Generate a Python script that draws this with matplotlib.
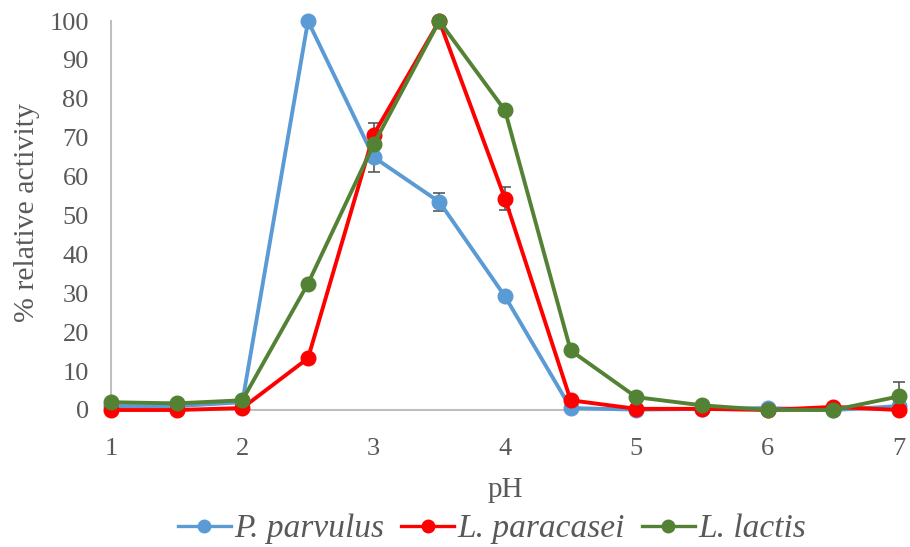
import matplotlib.pyplot as plt
from matplotlib.lines import Line2D

ph = [1, 1.5, 2, 2.5, 3, 3.5, 4, 4.5, 5, 5.5, 6, 6.5, 7]
p_parvulus = [1.0, 1.0, 2.0, 100, 65.0, 53.5, 29.2, 0.5, 0.1, 0.3, 0.5, 0.0, 1.0]
p_parvulus_err = [0, 0, 0, 0, 3.9, 2.3, 0, 0, 0, 0, 0, 0, 0]
l_paracasei = [0.0, 0.0, 0.5, 13.3, 70.8, 100, 54.3, 2.5, 0.3, 0.3, 0.0, 0.8, 0.0]
l_paracasei_err = [0, 0, 0, 0, 3.0, 0, 3.0, 0, 0, 0, 0, 0, 0]
l_lactis = [2.0, 1.7, 2.5, 32.5, 68.3, 100, 77.0, 15.3, 3.3, 1.2, 0.0, 0.0, 3.5]
l_lactis_err = [0, 0, 0, 0.6, 0, 0, 0, 0, 0, 0, 0, 0, 3.6]

names = ['P. parvulus', 'L. paracasei', 'L. lactis']
colors = ['#5B9BD5', '#FF0000', '#548235']

plt.rcParams['font.family'] = ['Liberation Serif', 'DejaVu Serif']
text_color = '#595959'

fig = plt.figure(figsize=(9.1, 5.47), dpi=100)
ax = fig.add_axes([111 / 910, 1 - 410 / 547, 788 / 910, 389 / 547])

series = [(p_parvulus, p_parvulus_err), (l_paracasei, l_paracasei_err), (l_lactis, l_lactis_err)]
handles = []
for (vals, err), name, c in zip(series, names, colors):
    ax.errorbar(ph, vals, yerr=err, color=c, lw=2.8, marker='o', ms=10.5,
                ecolor='#595959', elinewidth=1.2, capsize=4, capthick=1.2,
                clip_on=False, zorder=3)
    handles.append(Line2D([], [], color=c, lw=2.4, marker='o', ms=9, label=name))

ax.set_xlim(1, 7)
ax.set_ylim(0, 100)
ax.set_xticks(range(1, 8))
ax.set_yticks(range(0, 101, 10))
ax.tick_params(length=0, labelsize=19, labelcolor=text_color)
ax.tick_params(axis='x', pad=20)
ax.tick_params(axis='y', pad=16)
for s in ['top', 'right']:
    ax.spines[s].set_visible(False)
for s in ['left', 'bottom']:
    ax.spines[s].set_color('#BFBFBF')
    ax.spines[s].set_linewidth(1.5)

ax.set_xlabel('pH', fontsize=21, color=text_color)
ax.set_ylabel('% relative activity', fontsize=21.5, color=text_color)
ax.xaxis.set_label_coords(0.5, (410 - 490) / 389, transform=ax.transAxes)
ax.xaxis.label.set_va('center')
ax.yaxis.set_label_coords((27 - 111) / 788, (410 - 212) / 389, transform=ax.transAxes)
ax.yaxis.label.set_va('center')

leg = fig.legend(handles=handles, loc='center', bbox_to_anchor=(492 / 910, 1 - 529 / 547), ncol=3,
                 frameon=False, prop={'style': 'italic', 'size': 24}, handlelength=1.6,
                 handletextpad=0.1, columnspacing=0.5)
for t in leg.get_texts():
    t.set_color(text_color)

fig.savefig('out.png', dpi=100)
